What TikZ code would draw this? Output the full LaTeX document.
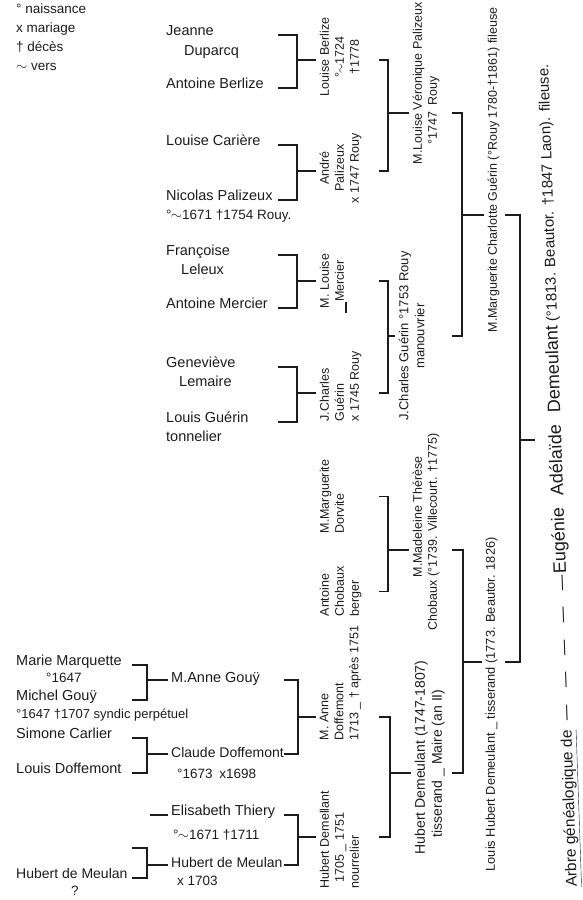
\documentclass[tikz,border=0pt]{standalone}
\usepackage{fontspec}
\setmainfont{Liberation Sans}
% born about: a ring before the tilde
\newcommand\vers{°\kern-0.05em$\sim$}

\begin{document}
\begin{tikzpicture}[x=1pt,y=-1pt,font=\fontsize{14.5}{18}\selectfont]
  \definecolor{encre}{HTML}{1C1C1C}
  \useasboundingbox (0,0) rectangle (582,900);
  \tikzset{
    nom/.style={anchor=base west,inner sep=1pt,text=encre},
    date/.style={nom,font=\fontsize{13.5}{15}\selectfont},
    vert/.style={rotate=90,inner sep=1.5pt,text=encre,font=\fontsize{12.5}{15}\selectfont},
    lien/.style={draw=encre,line width=1.2pt},
    amorce/.style={lien,shorten >=2pt}
  }
  % where the brackets start
  \coordinate (xa) at (278,0);
  \coordinate (xg) at (132,0);
  \coordinate (xi) at (284,0);
  \coordinate (xf) at (379,0);
  \coordinate (xo) at (452,0);
  \coordinate (xp) at (505,0);
  % middle of each bracket, where the child hangs
  \coordinate (uBerlize) at (297,60);
  \coordinate (uPalizeux) at (297,171);
  \coordinate (uMercier) at (297,281);
  \coordinate (uGuerinA) at (297,393);
  \coordinate (uVeronique) at (388,113);
  \coordinate (uGuerinB) at (388,336);
  \coordinate (uMarguerite) at (462,215);
  \coordinate (uGouy) at (147,680);
  \coordinate (uClaude) at (147,754);
  \coordinate (uMeulan) at (147,865);
  \coordinate (inconnue) at (132,848);
  \coordinate (tiret) at (150,815);
  \coordinate (uDoffemont) at (298,717);
  \coordinate (uDemellant) at (298,837);
  \coordinate (uMadeleine) at (388,550);
  \coordinate (uHubert) at (390,773);
  \coordinate (uLouisH) at (463,662);
  \coordinate (uEugenie) at (520,440);

  \node[nom,anchor=north west,align=left,font=\fontsize{13.5}{18.7}\selectfont] (legende) at (15,3)
    {° naissance\\x mariage\\† décès\\$\sim$ vers};

  \node[nom] (jeanne) at (165,35) {Jeanne};
  \node[nom] (duparcq) at (183,55) {Duparcq};
  \node[nom] (aberlize) at (165,88) {Antoine Berlize};
  \node[nom] (lcariere) at (165,145) {Louise Carière};
  \node[nom] (npalizeux) at (165,200) {Nicolas Palizeux};
  \node[date] (npalizeuxd) at (165,219) {\vers1671 †1754 Rouy.};
  \node[nom] (francoise) at (165,255) {Françoise};
  \node[nom] (leleux) at (180,274) {Leleux};
  \node[nom] (amercier) at (165,308) {Antoine Mercier};
  \node[nom] (genevieve) at (165,367) {Geneviève};
  \node[nom] (lemaire) at (178,386) {Lemaire};
  \node[nom] (lguerin) at (165,422) {Louis Guérin};
  \node[nom] (tonnelier) at (165,441) {tonnelier};

  \node[nom] (mmarquette) at (15,665) {Marie Marquette};
  \node[date] (mmarquetted) at (45,682) {°1647};
  \node[nom] (mgouy) at (15,700) {Michel Gouÿ};
  \node[date,font=\fontsize{13}{15}\selectfont] (mgouyd) at (15,718) {°1647 †1707 syndic perpétuel};
  \node[nom] (scarlier) at (15,738) {Simone Carlier};
  \node[nom] (ldoffemont) at (15,773) {Louis Doffemont};
  \node[nom,font=\fontsize{14}{18}\selectfont] (hmeulanA) at (15,878) {Hubert de Meulan};
  \node[date] (hmeulanAd) at (70,895) {?};
  \node[nom] (magouy) at (170,682) {M.Anne Gouÿ};
  \node[nom,font=\fontsize{14}{18}\selectfont] (cdoffemont) at (170,757) {Claude Doffemont};
  \node[date] (cdoffemontd) at (176,778) {°1673\enspace x1698};
  \node[nom] (ethiery) at (170,815) {Elisabeth Thiery};
  \node[date] (ethieryd) at (172,839) {\vers1671 †1711};
  \node[nom,font=\fontsize{14}{18}\selectfont] (hmeulanB) at (170,867) {Hubert de Meulan};
  \node[date] (hmeulanBd) at (176,885) {x 1703};

  \node[vert,anchor=north,align=center] (lberlize) at (318,57) {Louise Berlize\\ \vers1724\\ †1778};
  \node[vert,anchor=north,align=center] (apalizeux) at (318,168) {André\\ Palizeux\\ x 1747 Rouy};
  \node[vert,anchor=north,align=center] (mlmercier) at (318,281) {M. Louise\\ Mercier};
  \node[vert,anchor=north west,align=left] (jcguerinA) at (318,423) {J.Charles\\ Guérin\\ x 1745 Rouy};
  \node[vert,anchor=north west,align=left] (mmdorvite) at (318,535) {M.Marguerite\\ Dorvite};
  \node[vert,anchor=north west,align=left] (achobaux) at (318,618) {Antoine\\ Chobaux\\ berger};
  \node[vert,anchor=north west,align=left] (madoffemont) at (318,742) {M. Anne\\ Doffemont\\ 1713 \_ † après 1751};
  \node[vert,anchor=north west,align=left] (hdemellant) at (318,890) {Hubert Demellant\\ \hspace*{6pt}1705 \_ 1751\\ nourrelier};

  \node[vert,anchor=north west,align=left] (mlvpalizeux) at (411,166) {M.Louise Véronique Palizeux\\ \hspace*{20pt}°1747\enspace Rouy};
  \node[vert,anchor=north,align=center,font=\fontsize{13}{16}\selectfont] (jcguerinB) at (397,336) {J.Charles Guérin °1753 Rouy\\ manouvrier};
  \node[vert,anchor=north west,align=left] (mmtchobaux) at (411,632) {\hspace*{53pt}M.Madeleine Thérèse\\ Chobaux (°1739. Villecourt. †1775)};
  \node[vert,anchor=north west,align=left,font=\fontsize{14}{17}\selectfont] (hdemeulant) at (413,856) {Hubert Demeulant (1747-1807)\\ \hspace*{17pt}tisserand \_ Maire (an II)};

  \node[vert,anchor=north west] (mmcguerin) at (486,334) {M.Marguerite Charlotte Guérin (°Rouy 1780-†1861) fileuse};
  \node[vert,anchor=north west,font=\fontsize{12.8}{15}\selectfont] (lhdemeulant) at (484,873) {Louis Hubert Demeulant \_ tisserand (1773. Beautor. 1826)};

  \node[anchor=base west,rotate=92,inner sep=1pt,text=encre,font=\fontsize{15.5}{18}\selectfont] (arbre) at (577,888)
    {\underline{Arbre généalogique de}\hspace{10pt}—\hspace{17pt}—\hspace{17pt}—\hspace{17pt}—\hspace{17pt}—\hspace{10pt}};
  \node[anchor=base west,rotate=92,inner sep=0pt,text=encre,font=\fontsize{15}{18}\selectfont] (eugenie) at (arbre.base east)
    {{\fontsize{18}{20}\selectfont Eugénie\hspace{12pt}Adélaïde\hspace{12pt}Demeulant}\ (°1813. Beautor. †1847 Laon). fileuse.};

  % brackets: parents on the left, child on the right
  \draw[lien] (jeanne.base -| xa) -| (uBerlize) |- (aberlize.base -| xa);
  \draw[lien] (lcariere.base -| xa) -| (uPalizeux) |- (npalizeux.base -| xa);
  \draw[lien] (francoise.base -| xa) -| (uMercier) |- (amercier.base -| xa);
  \draw[lien] (genevieve.base -| xa) -| (uGuerinA) |- (lguerin.base -| xa);
  \draw[lien] (uBerlize -| xf) -| (uVeronique) |- (uPalizeux -| xf);
  \draw[lien] (uMercier -| xf) -| (uGuerinB) |- (uGuerinA -| xf);
  \draw[lien] (uVeronique -| xo) -| (uMarguerite) |- (uGuerinB -| xo);
  \draw[lien] (mmarquette.base -| xg) -| (uGouy) |- (mgouy.base -| xg);
  \draw[lien] (scarlier.base -| xg) -| (uClaude) |- (ldoffemont.base -| xg);
  \draw[lien] (inconnue) -| (uMeulan) |- (hmeulanA.base -| xg);
  \draw[lien] (uGouy -| xi) -| (uDoffemont) |- (uClaude -| xi);
  \draw[lien] (ethiery.base -| xi) -| (uDemellant) |- (uMeulan -| xi);
  \draw[lien] (mmdorvite.south -| xf) -| (uMadeleine) |- (achobaux.south -| xf);
  \draw[lien] (uDoffemont -| xf) -| (uHubert) |- (uDemellant -| xf);
  \draw[lien] (uMadeleine -| xo) -| (uLouisH) |- (uHubert -| xo);
  \draw[lien] (uMarguerite -| xp) -| (uEugenie) |- (uLouisH -| xp);

  \draw[amorce] (uBerlize) -- (uBerlize -| lberlize.north);
  \draw[amorce] (uPalizeux) -- (uPalizeux -| apalizeux.north);
  \draw[amorce] (uMercier) -- (uMercier -| mlmercier.north);
  \draw[amorce] (uGuerinA) -- (uGuerinA -| jcguerinA.north);
  \draw[amorce] (uVeronique) -- (uVeronique -| mlvpalizeux.north);
  \draw[amorce] (uGuerinB) -- (uGuerinB -| jcguerinB.north);
  \draw[amorce] (uMarguerite) -- (uMarguerite -| mmcguerin.north);
  \draw[amorce] (uGouy) -- (uGouy -| magouy.west);
  \draw[amorce] (uClaude) -- (uClaude -| cdoffemont.west);
  \draw[amorce] (uMeulan) -- (uMeulan -| hmeulanB.west);
  \draw[amorce] (tiret) -- (tiret -| ethiery.west);
  \draw[amorce] (uDoffemont) -- (uDoffemont -| madoffemont.north);
  \draw[amorce] (uDemellant) -- (uDemellant -| hdemellant.north);
  \draw[amorce] (uMadeleine) -- (uMadeleine -| mmtchobaux.north);
  \draw[amorce] (uHubert) -- (uHubert -| hdemeulant.north);
  \draw[amorce] (uLouisH) -- (uLouisH -| lhdemeulant.north);
  \draw[amorce,shorten >=9pt] (uEugenie) -- (uEugenie -| eugenie.north);
  \draw[lien] (346,302) -- (346,313);
\end{tikzpicture}
\end{document}
